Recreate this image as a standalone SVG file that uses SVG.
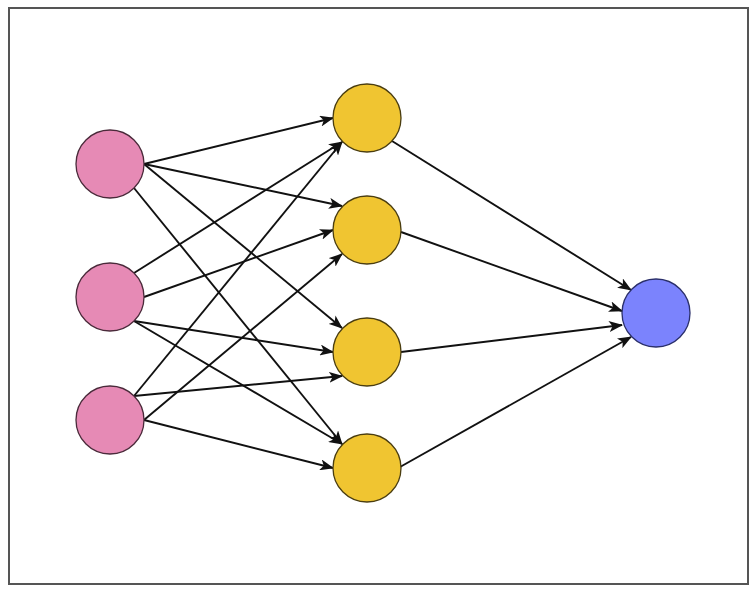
<svg xmlns="http://www.w3.org/2000/svg" width="756" height="593" viewBox="0 0 756 593">
<style>
.edge{stroke:#111;stroke-width:1.9;fill:none;marker-end:url(#arr)}
.in{fill:#E68AB5;stroke:#4a2a3a;stroke-width:1.3}
.hid{fill:#F0C531;stroke:#4a3d10;stroke-width:1.3}
.out{fill:#7B83FD;stroke:#2a2f6a;stroke-width:1.3}
</style>
<defs>
<marker id="arr" viewBox="0 0 14 11" refX="13" refY="5.5" markerWidth="14" markerHeight="11" markerUnits="userSpaceOnUse" orient="auto">
<path d="M0,0 L14,5.5 L0,11 L3.5,5.5 Z" fill="#111"/>
</marker>
</defs>
<rect x="0" y="0" width="756" height="593" fill="#fff"/>
<rect x="9" y="8" width="739" height="576" fill="#fff" stroke="#555" stroke-width="2"/>
<g id="connectors">
<line class="edge" x1="144" y1="164" x2="333" y2="118"/>
<line class="edge" x1="144" y1="164" x2="342" y2="206"/>
<line class="edge" x1="144" y1="164" x2="342" y2="328"/>
<line class="edge" x1="134" y1="188" x2="342" y2="444"/>
<line class="edge" x1="134" y1="273" x2="342" y2="142"/>
<line class="edge" x1="144" y1="297" x2="333" y2="230"/>
<line class="edge" x1="134" y1="321" x2="333" y2="352"/>
<line class="edge" x1="134" y1="321" x2="342" y2="444"/>
<line class="edge" x1="134" y1="396" x2="342" y2="142"/>
<line class="edge" x1="144" y1="420" x2="342" y2="254"/>
<line class="edge" x1="134" y1="396" x2="342" y2="376"/>
<line class="edge" x1="144" y1="420" x2="333" y2="468"/>
<line class="edge" x1="392" y1="141" x2="631" y2="290"/>
<line class="edge" x1="401" y1="232" x2="622" y2="311"/>
<line class="edge" x1="401" y1="352" x2="622" y2="325"/>
<line class="edge" x1="400" y1="467" x2="631" y2="337"/>
</g>
<g id="in1"><circle class="in" cx="110" cy="164" r="34"/></g>
<g id="in2"><circle class="in" cx="110" cy="297" r="34"/></g>
<g id="in3"><circle class="in" cx="110" cy="420" r="34"/></g>
<g id="h1"><circle class="hid" cx="367" cy="118" r="34"/></g>
<g id="h2"><circle class="hid" cx="367" cy="230" r="34"/></g>
<g id="h3"><circle class="hid" cx="367" cy="352" r="34"/></g>
<g id="h4"><circle class="hid" cx="367" cy="468" r="34"/></g>
<g id="out"><circle class="out" cx="656" cy="313" r="34"/></g>
</svg>
